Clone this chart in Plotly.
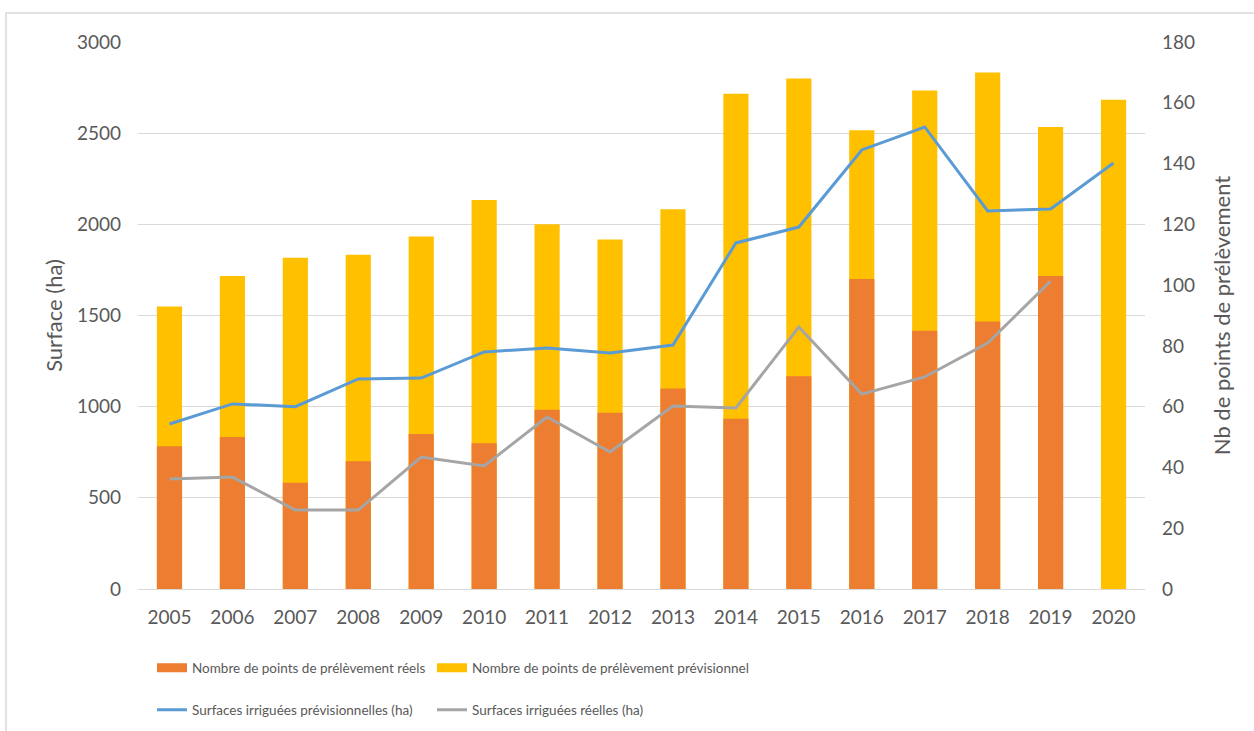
import plotly.graph_objects as go

# Années
annees = ["2005", "2006", "2007", "2008", "2009", "2010", "2011", "2012",
          "2013", "2014", "2015", "2016", "2017", "2018", "2019", "2020"]

# Nombre de points de prélèvement (axe droit)
points_previsionnel = [93, 103, 109, 110, 116, 128, 120, 115,
                       125, 163, 168, 151, 164, 170, 152, 161]
points_reels = [47, 50, 35, 42, 51, 48, 59, 58,
                66, 56, 70, 102, 85, 88, 103, 0]

# Surfaces irriguées en ha (axe gauche)
surf_previsionnelles = [905, 1015, 1000, 1152, 1157, 1300, 1322, 1294,
                        1338, 1898, 1985, 2408, 2534, 2073, 2084, 2336]
surf_reelles = [603, 614, 433, 433, 724, 675, 943, 751,
                1004, 993, 1437, 1069, 1163, 1349, 1688, None]

FONT = "Lato, 'Open Sans', sans-serif"
TXT = "#595959"

ORANGE, YELLOW, BLUE, GREY = "#ED7D31", "#FFC000", "#5B9BD5", "#A5A5A5"

L, R, T, B = 138, 109, 42, 142
W, H = 1254, 731
pw, ph = W - L - R, H - T - B


def px_x(v):
    return (v - L) / pw


def px_y(v):
    return (H - B - v) / ph


fig = go.Figure()

# Barres superposées : prévisionnel derrière, réels devant
fig.add_trace(go.Bar(x=annees, y=points_previsionnel, name="Nombre de points de prélèvement prévisionnel",
                     marker=dict(color=YELLOW, line=dict(width=0)), yaxis="y", showlegend=False))
fig.add_trace(go.Bar(x=annees, y=points_reels, name="Nombre de points de prélèvement réels",
                     marker=dict(color=ORANGE, line=dict(width=0)), yaxis="y", showlegend=False))

# Courbes de surfaces
fig.add_trace(go.Scatter(x=annees, y=surf_previsionnelles, name="Surfaces irriguées prévisionnelles (ha)",
                         mode="lines", line=dict(color=BLUE, width=3), yaxis="y2", legend="legend3"))
fig.add_trace(go.Scatter(x=annees, y=surf_reelles, name="Surfaces irriguées réelles (ha)",
                         mode="lines", line=dict(color=GREY, width=3), yaxis="y2", legend="legend4"))

# Entrées de légende des barres (pastille rectangulaire)
fig.add_trace(go.Scatter(x=[None], y=[None], name="Nombre de points de prélèvement réels",
                         mode="lines", line=dict(color=ORANGE, width=9), yaxis="y", legend="legend"))
fig.add_trace(go.Scatter(x=[None], y=[None], name="Nombre de points de prélèvement prévisionnel",
                         mode="lines", line=dict(color=YELLOW, width=9), yaxis="y", legend="legend2"))

leg_common = dict(orientation="h", xanchor="left", yanchor="middle",
                  font=dict(family=FONT, size=13.5, color=TXT),
                  bgcolor="rgba(0,0,0,0)", itemclick=False, itemdoubleclick=False,
                  itemwidth=30)

fig.update_layout(
    width=W, height=H,
    margin=dict(l=L, r=R, t=T, b=B, autoexpand=False),
    paper_bgcolor="white", plot_bgcolor="white",
    font=dict(family=FONT, size=19, color=TXT),
    barmode="overlay", bargap=0.6,
    xaxis=dict(showgrid=False, showline=True, linecolor="#D9D9D9", ticks="",
               tickfont=dict(size=19, color=TXT), ticklabelstandoff=11),
    yaxis=dict(side="right", range=[0, 180], dtick=20, showgrid=False,
               zeroline=False, ticks="", tickfont=dict(size=19, color=TXT),
               ticklabelstandoff=16,
               title=dict(text="Nb de points de prélèvement", font=dict(size=22, color=TXT),
                          standoff=20)),
    yaxis2=dict(side="left", overlaying="y", range=[0, 3000], dtick=500,
                showgrid=True, gridcolor="#D9D9D9", gridwidth=1, zeroline=False,
                ticks="", tickfont=dict(size=19, color=TXT), ticklabelstandoff=16,
                title=dict(text="Surface (ha)", font=dict(size=22, color=TXT),
                           standoff=8)),
    legend=dict(x=px_x(152), y=px_y(668), **leg_common),
    legend2=dict(x=px_x(432), y=px_y(668), **leg_common),
    legend3=dict(x=px_x(152), y=px_y(710), **leg_common),
    legend4=dict(x=px_x(432), y=px_y(710), **leg_common),
    shapes=[dict(type="rect", xref="paper", yref="paper",
                 x0=px_x(6), x1=px_x(1320), y0=px_y(820), y1=px_y(13),
                 line=dict(color="#D9D9D9", width=1.5), fillcolor="rgba(0,0,0,0)",
                 layer="below")],
)

fig.write_html("out.html")
